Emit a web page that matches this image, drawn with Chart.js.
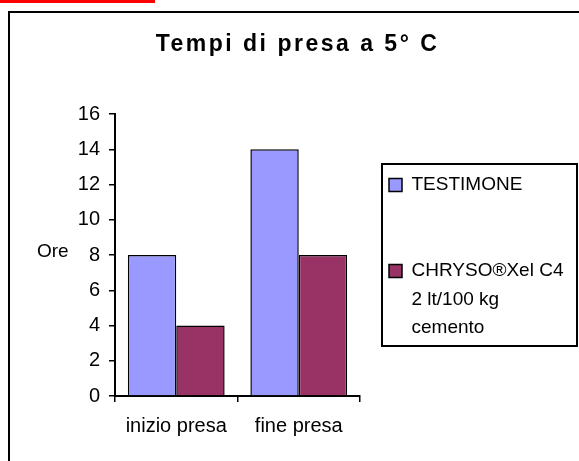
<!DOCTYPE html>
<html>
<head>
<meta charset="utf-8">
<script src="https://cdn.jsdelivr.net/npm/chart.js@4"></script>
<style>
  html, body { margin: 0; padding: 0; background: #fff; overflow: hidden; }
  #bar { position: absolute; left: 0; top: 0; width: 155px; height: 3px; background: #ff0000; }
  #frame { position: absolute; left: 8px; top: 11px; width: 600px; height: 500px; border: 2px solid #000; }
  #wrap { position: absolute; left: 0; top: 0; width: 579px; height: 461px; }
</style>
</head>
<body>
<div id="bar"></div>
<div id="frame"></div>
<div id="wrap"><canvas id="myChart" width="579" height="461"></canvas></div>
<script>
var categories = ['inizio presa', 'fine presa'];
var seriesLabels = ['TESTIMONE', 'CHRYSO®Xel C4 2 lt/100 kg cemento'];
var legendLines = [['TESTIMONE', ''], ['CHRYSO®Xel C4', '2 lt/100 kg', 'cemento']];
var testimone = [8, 14];
var chryso = [4, 8];
var yTicks = [0, 2, 4, 6, 8, 10, 12, 14, 16];
var titleText = 'Tempi di presa a 5° C';
var yTitle = 'Ore';

Chart.defaults.font.family = '"Liberation Sans", Arial, sans-serif';
Chart.defaults.color = '#000';

// Excel draws the title with wide letter spacing
var spacing = {
  id: 'spacing',
  beforeInit: function (chart) {
    var ctx = chart.ctx;
    var fill = ctx.fillText;
    ctx.fillText = function (t, x, y, w) {
      this.letterSpacing = this.font.indexOf('bold') >= 0 ? '2.5px' : '0px';
      return w === undefined ? fill.call(this, t, x, y) : fill.call(this, t, x, y, w);
    };
  },
  afterInit: function (chart) {
    var fit = chart.legend.fit;
    chart.legend.fit = function () {
      fit.call(this);
      this.width = 219;
    };
  }
};

var extras = {
  id: 'extras',
  afterDraw: function (chart) {
    var ctx = chart.ctx;
    var a = chart.chartArea;
    ctx.save();
    ctx.font = '19px "Liberation Sans", Arial, sans-serif';
    ctx.fillStyle = '#000';
    ctx.textAlign = 'left';
    ctx.textBaseline = 'middle';
    ctx.fillText(yTitle, a.left - 78, (a.top + a.bottom) / 2 - 3);
    // legend frame
    var lg = chart.legend;
    ctx.lineWidth = 2;
    ctx.strokeStyle = '#000';
    ctx.strokeRect(lg.left + 22, a.top + 50, lg.right - lg.left - 24, 182);
    ctx.restore();
  }
};

var ctx = document.getElementById('myChart').getContext('2d');
var myChart = new Chart(ctx, {
  type: 'bar',
  data: {
    labels: categories,
    datasets: [{
      label: seriesLabels[0],
      data: testimone,
      backgroundColor: '#9999ff',
      borderColor: '#000',
      borderWidth: 1.5
    },
    {
      label: seriesLabels[1],
      data: chryso,
      backgroundColor: '#993366',
      borderColor: '#000',
      borderWidth: 1.5
    }]
  },
  options: {
    responsive: false,
    animation: false,
    layout: { padding: { left: 16, right: 0, top: 0, bottom: 11 } },
    datasets: { bar: { categoryPercentage: 0.79, barPercentage: 1 } },
    plugins: {
      title: {
        display: true,
        text: titleText,
        font: { size: 23, weight: 'bold', lineHeight: 1.2 },
        padding: { top: 31, bottom: 55.4 }
      },
      legend: {
        position: 'right',
        align: 'start',
        title: { display: true, text: '', padding: 0, font: { size: 10, lineHeight: 14.65 } },
        labels: {
          boxWidth: 13,
          boxHeight: 13,
          padding: 29,
          font: { size: 19, lineHeight: 1.5 },
          generateLabels: function (chart) {
            return Chart.defaults.plugins.legend.labels.generateLabels(chart).map(function (item, i) {
              item.text = legendLines[i];
              return item;
            });
          }
        },
        onClick: null
      },
      tooltip: { enabled: false }
    },
    scales: {
      x: {
        grid: { display: true, drawOnChartArea: false, drawTicks: true, tickLength: 6, color: '#000', lineWidth: 1.5 },
        border: { display: true, color: '#000', width: 2 },
        ticks: { font: { size: 20 }, padding: 12 }
      },
      y: {
        min: 0,
        max: 16,
        afterBuildTicks: function (scale) {
          scale.ticks = yTicks.map(function (v) { return { value: v }; });
        },
        afterFit: function (scale) { scale.width = 99; },
        grid: { display: true, drawOnChartArea: false, drawTicks: true, tickLength: 6, color: '#000', lineWidth: 1.5 },
        border: { display: true, color: '#000', width: 2 },
        ticks: { font: { size: 20 }, padding: 9 }
      }
    }
  },
  plugins: [spacing, extras]
});
</script>
</body>
</html>
